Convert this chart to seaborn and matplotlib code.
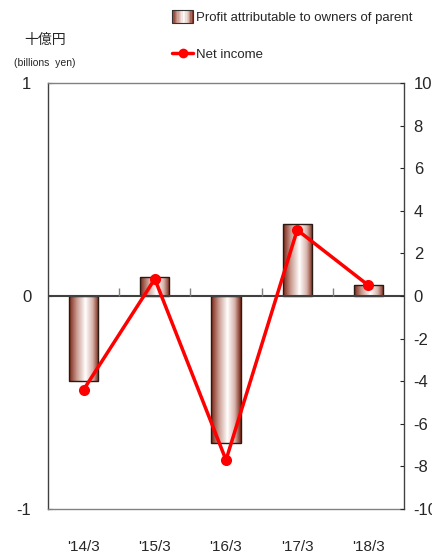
import numpy as np
import matplotlib
matplotlib.use("Agg")
import matplotlib.pyplot as plt
import matplotlib.patches as mpatches
import matplotlib.lines as mlines
from matplotlib.colors import LinearSegmentedColormap
from matplotlib.legend_handler import HandlerBase
import seaborn as sns

periods = ["'14/3", "'15/3", "'16/3", "'17/3", "'18/3"]
profit = [-0.40, 0.09, -0.69, 0.34, 0.05]      # billions yen, left axis
net_income = [-4.4, 0.8, -7.7, 3.1, 0.5]       # right axis
left_ticks = [-1, 0, 1]
right_ticks = list(range(-10, 11, 2))

sns.set_style("white")
plt.rcParams["font.family"] = ["Liberation Sans", "Noto Sans CJK JP", "DejaVu Sans"]
plt.rcParams["axes.unicode_minus"] = False

BROWN = "#7a2617"
grad = LinearSegmentedColormap.from_list(
    "bar", [(0, BROWN), (0.25, "#c9988c"), (0.55, "#ffffff"), (0.8, "#d8b3aa"), (1, BROWN)])
gvals = np.linspace(0, 1, 64).reshape(1, -1)


class GradHandler(HandlerBase):
    def create_artists(self, legend, orig, xd, yd, w, h, fs, trans):
        arts = []
        n = 16
        y0 = yd - 0.2 * h
        hh = 1.4 * h
        for i in range(n):
            arts.append(mpatches.Rectangle((xd + w * i / n, y0), w / n, hh,
                                           facecolor=grad((i + 0.5) / n), lw=0, transform=trans))
        arts.append(mpatches.Rectangle((xd, y0), w, hh, facecolor="none",
                                       edgecolor="#333333", lw=0.8, transform=trans))
        return arts


fig = plt.figure(figsize=(4.32, 5.52), dpi=100)
ax = fig.add_axes([48 / 432, 1 - 509 / 552, 356 / 432, 426 / 552])

sns.barplot(x=periods, y=profit, ax=ax, width=0.41, color=BROWN,
            edgecolor="#2a1a14", linewidth=1.0)
ax.set_xlim(-0.5, len(periods) - 0.5)
ax.set_ylim(-1, 1)
for p in list(ax.patches):
    x0, y0 = p.get_x(), p.get_y()
    w, h = p.get_width(), p.get_height()
    im = ax.imshow(gvals, cmap=grad, aspect="auto", extent=[x0, x0 + w, y0, y0 + h],
                   zorder=p.get_zorder() + 0.1)
    im.set_clip_path(p)
    p.set_facecolor("none")
    p.set_zorder(p.get_zorder() + 0.2)
ax.set_xlim(-0.5, len(periods) - 0.5)
ax.set_ylim(-1, 1)

ax.axhline(0, color="#404040", lw=1.5, zorder=3)
ax.vlines(np.arange(len(periods) - 1) + 0.5, 0, 0.038, color="#808080", lw=1, zorder=3)

ax.set_yticks(left_ticks)
ax.set_yticklabels([str(t) for t in left_ticks])
ax.tick_params(axis="y", direction="in", length=3, pad=12, labelsize=12)
ax.tick_params(axis="x", length=0, pad=22, labelsize=11)
ax.set_xlabel("")
ax.set_ylabel("")
for s in ax.spines.values():
    s.set_color("#808080")
    s.set_linewidth(1.0)
ax.spines["left"].set_color("#404040")

ax2 = ax.twinx()
sns.lineplot(x=np.arange(len(periods)), y=net_income, ax=ax2, color="#ff0000",
             lw=2.5, marker="o", markersize=8, markeredgewidth=0)
ax2.set_ylim(-10, 10)
ax2.set_yticks(right_ticks)
ax2.set_yticklabels([str(t) for t in right_ticks])
ax2.tick_params(axis="y", direction="in", length=3, pad=7, labelsize=12)
for s in ax2.spines.values():
    s.set_visible(False)
ax2.spines["right"].set_visible(True)
ax2.spines["right"].set_color("#404040")
ax.set_xlim(-0.5, len(periods) - 0.5)

fig.text(45 / 432, 1 - 40 / 552, "十億円", ha="center", va="center", fontsize=10)
fig.text(45 / 432, 1 - 63 / 552, "(billions  yen)", ha="center", va="center", fontsize=7.5)

h_bar = mpatches.Patch(label="Profit attributable to owners of parent")
h_line = mlines.Line2D([], [], color="#ff0000", lw=2.5, marker="o", markersize=7,
                       markeredgewidth=0, label="Net income")
fig.legend(handles=[h_bar, h_line], handler_map={mpatches.Patch: GradHandler()},
           loc="upper left", bbox_to_anchor=(172 / 432, 1 - 12 / 552), frameon=False,
           borderpad=0, borderaxespad=0, handlelength=1.6, handletextpad=0.25,
           labelspacing=1.85, fontsize=9.5)

fig.savefig("out.png", dpi=100)
